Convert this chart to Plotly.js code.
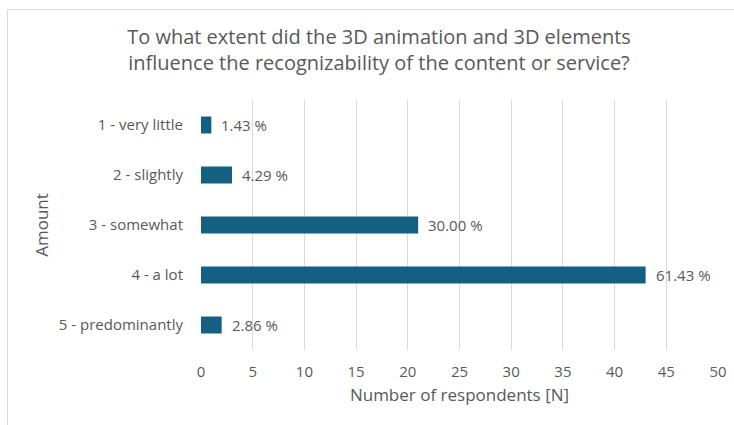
<!DOCTYPE html>
<html>
<head>
<meta charset="utf-8">
<script src="https://cdn.plot.ly/plotly-3.0.1.min.js"></script>
<style>
html,body{margin:0;padding:0;background:#fff;}
#wrap{position:relative;width:734px;height:425px;overflow:hidden;}
#frame{position:absolute;left:7px;top:9px;width:800px;height:500px;border-top:1px solid #d9d9d9;border-left:1px solid #d9d9d9;}
#chart{position:absolute;left:0;top:0;width:734px;height:425px;}
</style>
</head>
<body>
<div id="wrap"><div id="frame"></div><div id="chart"></div></div>
<script>
const categories = ["1 - very little", "2 - slightly", "3 - somewhat", "4 - a lot", "5 - predominantly"];
const respondents = [1, 3, 21, 43, 2];
const percentLabels = ["1.43 %", "4.29 %", "30.00 %", "61.43 %", "2.86 %"];
const xTicks = [0, 5, 10, 15, 20, 25, 30, 35, 40, 45, 50];

const FONT = "Open Sans, sans-serif";
const GREY = "#595959";

const trace = {
  type: "bar",
  orientation: "h",
  y: categories,
  x: respondents,
  marker: {color: "#156082"},
  width: 0.34,
  hoverinfo: "none"
};

const annotations = categories.map((c, i) => ({
  x: respondents[i], y: c, xref: "x", yref: "y",
  text: percentLabels[i], showarrow: false,
  xanchor: "left", xshift: 8,
  font: {family: FONT, size: 15, color: GREY}
}));

const layout = {
  width: 734, height: 425,
  paper_bgcolor: "rgba(0,0,0,0)", plot_bgcolor: "rgba(0,0,0,0)",
  margin: {l: 201, r: 16, t: 100, b: 75},
  showlegend: false,
  font: {family: FONT, color: GREY},
  title: {
    text: "To what extent did the 3D animation and 3D elements<br>influence the recognizability of the content or service?",
    font: {family: FONT, size: 20, color: GREY},
    x: 379/734, xanchor: "center", xref: "container",
    y: 1 - 44/425, yanchor: "middle", yref: "container"
  },
  xaxis: {
    range: [0, 50], tickvals: xTicks, ticktext: xTicks.map(String),
    showgrid: true, gridcolor: "#d9d9d9", gridwidth: 1, zeroline: false,
    showline: false, ticks: "outside", ticklen: 8, tickcolor: "rgba(0,0,0,0)",
    tickfont: {family: FONT, size: 15, color: GREY},
    title: {text: "Number of respondents [N]", font: {family: FONT, size: 17, color: GREY}, standoff: 9},
    fixedrange: true
  },
  yaxis: {
    type: "category", categoryorder: "array", categoryarray: categories,
    autorange: "reversed", showgrid: false, zeroline: false, showline: false,
    ticks: "outside", ticklen: 14, tickcolor: "rgba(0,0,0,0)",
    tickfont: {family: FONT, size: 15, color: GREY},
    title: {text: "Amount", font: {family: FONT, size: 17, color: GREY}, standoff: 5},
    fixedrange: true
  },
  annotations: annotations
};

Plotly.newPlot("chart", [trace], layout, {displayModeBar: false, staticPlot: true});
</script>
</body>
</html>
